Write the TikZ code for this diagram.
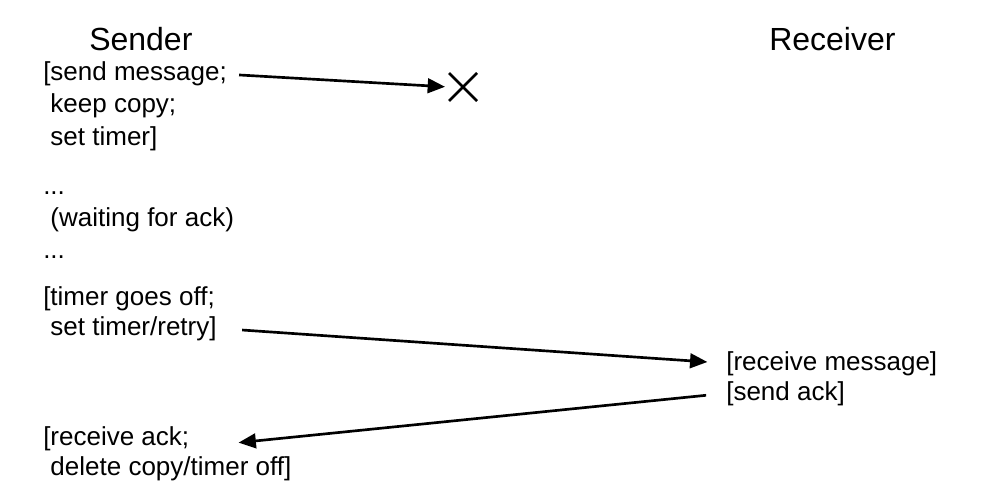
\documentclass[tikz,border=0pt]{standalone}
\usepackage{fontspec}
\setmainfont{Liberation Sans}
\usetikzlibrary{arrows.meta,shapes.misc}

\begin{document}
\begin{tikzpicture}[x=0.75pt,y=-0.75pt,
    txt/.style={anchor=base west,inner sep=0pt,font=\fontsize{19.5}{24}\selectfont},
    head/.style={anchor=base west,inner sep=0pt,font=\fontsize{24}{29}\selectfont},
    msg/.style={-{Triangle[length=13pt,width=11pt]},line width=2pt}]
  \useasboundingbox (0,0) rectangle (982,492);
  % column headings
  \node[head] (sender) at (89,51) {Sender};
  \node[head] (receiver) at (769,51) {Receiver};
  % sender side
  \node[txt] (send) at (43,81) {[send message;};
  \node[txt] (keep) at (43,113) {\ keep copy;};
  \node[txt] (timer) at (43,145) {\ set timer]};
  \node[txt] (dots1) at (43,194) {...};
  \node[txt] (wait) at (43,226) {\ (waiting for ack)};
  \node[txt] (dots2) at (43,258) {...};
  \node[txt] (off) at (43,305) {[timer goes off;};
  \node[txt] (retry) at (43,335) {\ set timer/retry]};
  \node[txt] (rack) at (43,445) {[receive ack;};
  \node[txt] (delete) at (43,475) {\ delete copy/timer off]};
  % receiver side
  \node[txt] (rmsg) at (726,370) {[receive message]};
  \node[txt] (sack) at (726,400) {[send ack]};
  % lost message
  \node[cross out,draw,line width=2pt,minimum size=19pt] (lost) at (463,87) {};
  % messages
  \draw[msg,shorten <=9pt,shorten >=3pt] (send.east) -- (lost.west);
  \draw[msg,shorten <=19pt,shorten >=14pt] (retry.east) -- (rmsg.west);
  \draw[msg,shorten <=15pt,shorten >=37pt] (sack.west) -- ([yshift=-7pt]rack.east);
\end{tikzpicture}
\end{document}
